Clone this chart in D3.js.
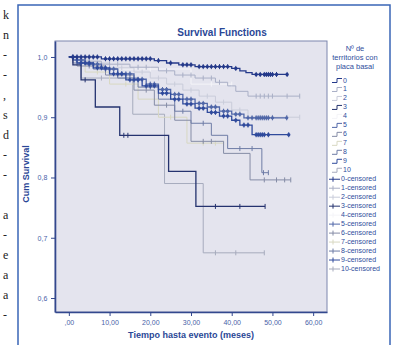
<!DOCTYPE html>
<html>
<head>
<meta charset="utf-8">
<script src="https://cdn.jsdelivr.net/npm/d3@7"></script>
<style>
  body { margin: 0; background: #fff; }
  svg { display: block; font-family: "Liberation Sans", Arial, sans-serif; }
</style>
</head>
<body>
<svg id="chart" width="395" height="345"></svg>
<script>
// Nº de territorios con placa basal
const groups = ["0", "1", "2", "3", "4", "5", "6", "7", "8", "9", "10"];
const groupColors = ["#24398a", "#a9afc6", "#c9ccda", "#25336f", "#f4f4f8", "#5067a8",
                     "#858ca6", "#d8d8c2", "#6e7ca6", "#2f4a9c", "#a6abbd"];

// event times (months) and survival after each event, per group
const eventTimes = [
  [8, 21, 24, 27, 31, 40, 42, 43.5, 45],
  [3, 8, 15, 22, 26, 31, 36, 39, 41, 44],
  [1, 5, 10, 16, 20, 24, 28, 32, 36, 40, 44],
  [1, 3, 6.5, 12.5, 24.5, 31.2],
  [12, 30],
  [1, 4, 8, 12, 16, 19, 22, 25, 28, 31, 34, 37, 40, 43],
  [2, 9, 16, 21, 26, 30, 38, 44.5],
  [4, 10, 17, 22, 29],
  [1, 6, 12, 17, 22, 26, 30, 35, 39, 47.4],
  [2, 6, 10, 14, 18, 22, 25, 28, 31, 34, 37, 40, 42, 45],
  [3, 15.7, 23.5, 33]
];
const survival = [
  [0.997, 0.994, 0.99, 0.987, 0.984, 0.981, 0.977, 0.974, 0.971],
  [0.993, 0.988, 0.983, 0.977, 0.97, 0.965, 0.958, 0.952, 0.943, 0.935],
  [0.995, 0.99, 0.982, 0.975, 0.965, 0.955, 0.945, 0.935, 0.925, 0.912, 0.9],
  [0.987, 0.962, 0.917, 0.87, 0.81, 0.752],
  [0.98, 0.955],
  [0.995, 0.988, 0.98, 0.972, 0.963, 0.955, 0.946, 0.938, 0.93, 0.923, 0.917, 0.91, 0.905, 0.899],
  [0.985, 0.97, 0.945, 0.92, 0.895, 0.86, 0.84, 0.796],
  [0.975, 0.955, 0.93, 0.9, 0.857],
  [0.99, 0.98, 0.965, 0.95, 0.93, 0.91, 0.89, 0.87, 0.848, 0.808],
  [0.99, 0.982, 0.972, 0.962, 0.952, 0.94, 0.93, 0.922, 0.915, 0.908, 0.902, 0.895, 0.887, 0.871],
  [0.965, 0.905, 0.79, 0.675]
];
const censorTimes = [
  [1, 2, 3, 4, 5, 6, 7, 9, 10, 11, 12, 13, 14, 15, 16, 17, 18, 19, 20, 22, 25, 28, 29, 30, 32, 33,
   34, 35, 36, 37, 38, 39, 41, 46, 47, 48, 48.5, 49, 49.5, 50, 51, 53.6],
  [2, 5, 10, 12, 17, 19, 24, 28, 30, 33, 35, 37, 46, 47, 48, 49, 50, 53.6, 56.7],
  [3, 7, 13, 18, 22, 26, 30, 34, 38, 42, 47, 50, 53.6, 56.7],
  [4, 13.5, 14.5, 36, 42, 48.2],
  [5, 20, 35, 40],
  [2, 3, 5, 6, 7, 9, 10, 11, 13, 14, 15, 17, 18, 20, 21, 23, 24, 26, 27, 29, 30, 32, 33, 35, 36, 38,
   39, 41, 42, 44, 45, 46, 46.5, 47, 47.5, 48, 48.5, 49, 50, 53.5],
  [5, 12, 19, 24, 33, 35, 48, 51, 53, 54.5],
  [7, 14, 25, 33, 36, 38],
  [3, 9, 15, 20, 28, 33, 42, 45, 47.8, 49],
  [1, 3, 4, 5, 7, 8, 9, 11, 12, 13, 15, 16, 17, 19, 20, 21, 23, 24, 26, 27, 29, 30, 32, 33, 35, 36,
   38, 39, 41, 43, 44, 46, 46.5, 47, 47.5, 48, 49, 54],
  [8, 36, 41, 48]
];
const endTimes = [53.6, 56.7, 56.7, 48.2, 40, 53.5, 54.5, 38, 49, 54, 48];

const xTicks = [0, 10, 20, 30, 40, 50, 60];
const yTicks = [0.6, 0.7, 0.8, 0.9, 1.0];
const drawOrder = [4, 10, 7, 2, 1, 6, 8, 5, 3, 9, 0];
const dotGroups = [0, 5, 9];

// cropped letters of the neighbouring text column on the scanned page
const marginLetters = ["k", "n", "-", "-", ",", "s", "d", "-", "-", "", "a", "-", "e", "a", "a", "-"];

const svg = d3.select("#chart");
const blue = "#2e4c9c";

// page margin text
svg.append("g")
  .selectAll("text")
  .data(marginLetters)
  .join("text")
  .attr("x", 3)
  .attr("y", (d, i) => 19 + i * 20)
  .attr("font-family", "'Liberation Serif', serif")
  .attr("font-size", 12)
  .attr("fill", "#222")
  .text(d => d);

// figure frame
svg.append("rect")
  .attr("x", 18).attr("y", 5)
  .attr("width", 372).attr("height", 345)
  .attr("fill", "none")
  .attr("stroke", "#3a66b6")
  .attr("stroke-width", 1.5);

const plot = { left: 55, right: 327, top: 41, bottom: 312 };

const x = d3.scaleLinear().domain([-3.4, 63.4]).range([plot.left, plot.right]);
const y = d3.scaleLinear().domain([0.5768, 1.0265]).range([plot.bottom, plot.top]);

svg.append("rect")
  .attr("x", plot.left).attr("y", plot.top)
  .attr("width", plot.right - plot.left).attr("height", plot.bottom - plot.top)
  .attr("fill", "#e4e4ee")
  .attr("stroke", "#7d86ae")
  .attr("stroke-width", 1);

svg.append("defs").append("clipPath").attr("id", "clip")
  .append("rect")
  .attr("x", plot.left).attr("y", plot.top)
  .attr("width", plot.right - plot.left).attr("height", plot.bottom - plot.top);

// axes
const xAxis = svg.append("g")
  .attr("transform", `translate(0,${plot.bottom})`)
  .call(d3.axisBottom(x).tickValues(xTicks).tickSize(4).tickSizeOuter(0)
    .tickFormat(d => d === 0 ? ",00" : d3.format(".2f")(d).replace(".", ",")));
const yAxis = svg.append("g")
  .attr("transform", `translate(${plot.left},0)`)
  .call(d3.axisLeft(y).tickValues(yTicks).tickSize(4).tickSizeOuter(0)
    .tickFormat(d => d3.format(".1f")(d).replace(".", ",")));

[xAxis, yAxis].forEach(g => {
  g.select(".domain").attr("stroke", "#33488e").attr("stroke-width", 1.6);
  g.selectAll(".tick line").attr("stroke", "#33488e");
  g.selectAll(".tick text")
    .attr("fill", "#4862a8")
    .attr("font-size", 7)
    .attr("font-family", "'Liberation Sans', Arial, sans-serif");
});
xAxis.selectAll(".tick text").attr("dy", "0.9em");
yAxis.selectAll(".tick text").attr("dx", "-0.1em");

// survival step lines
const line = d3.line()
  .curve(d3.curveStepAfter)
  .x(d => x(d[0]))
  .y(d => y(d[1]));

function stepPoints(g) {
  const pts = [[0, 1]];
  eventTimes[g].forEach((t, i) => pts.push([t, survival[g][i]]));
  pts.push([endTimes[g], pts[pts.length - 1][1]]);
  return pts;
}
function survivalAt(g, t) {
  let s = 1;
  eventTimes[g].forEach((et, i) => { if (et <= t) s = survival[g][i]; });
  return s;
}

const curves = svg.append("g").attr("clip-path", "url(#clip)");

drawOrder.forEach(g => {
  const dark = dotGroups.includes(g) || g === 3;
  curves.append("path")
    .datum(stepPoints(g))
    .attr("fill", "none")
    .attr("stroke", groupColors[g])
    .attr("stroke-width", dark ? 1.3 : 1)
    .attr("d", line);

  const marks = curves.append("g");
  marks.selectAll("line")
    .data(censorTimes[g])
    .join("line")
    .attr("x1", t => x(t)).attr("x2", t => x(t))
    .attr("y1", t => y(survivalAt(g, t)) - 2.5)
    .attr("y2", t => y(survivalAt(g, t)) + 2.5)
    .attr("stroke", groupColors[g])
    .attr("stroke-width", 1);
  if (dotGroups.includes(g)) {
    marks.selectAll("circle")
      .data(censorTimes[g])
      .join("circle")
      .attr("cx", t => x(t))
      .attr("cy", t => y(survivalAt(g, t)))
      .attr("r", 1.7)
      .attr("fill", groupColors[g]);
  }
});

// titles
svg.append("text")
  .attr("x", 222).attr("y", 36)
  .attr("text-anchor", "middle")
  .attr("font-size", 10).attr("font-weight", "bold")
  .attr("fill", "#2a4796")
  .text("Survival Functions");

svg.append("text")
  .attr("x", 191).attr("y", 338)
  .attr("text-anchor", "middle")
  .attr("font-size", 9).attr("font-weight", "bold")
  .attr("fill", "#2a4796")
  .text("Tiempo hasta evento (meses)");

svg.append("text")
  .attr("transform", "translate(29,174) rotate(-90)")
  .attr("text-anchor", "middle")
  .attr("font-size", 9).attr("font-weight", "bold")
  .attr("fill", "#2a4796")
  .text("Cum Survival");

// legend
const legend = svg.append("g").attr("font-size", 7).attr("fill", blue);
["Nº de", "territorios con", "placa basal"].forEach((t, i) => {
  legend.append("text")
    .attr("x", 355).attr("y", 51 + i * 9)
    .attr("text-anchor", "middle")
    .attr("font-size", 7.5)
    .text(t);
});

const legendItems = groups.map((g, i) => ({ label: g, g: i, censored: false }))
  .concat(groups.map((g, i) => ({ label: g + "-censored", g: i, censored: true })));
const rowY = d3.scaleLinear().domain([0, 21]).range([80, 268.5]);

const rows = legend.selectAll("g.row")
  .data(legendItems)
  .join("g")
  .attr("class", "row")
  .attr("transform", (d, i) => `translate(0,${rowY(i)})`);

rows.filter(d => !d.censored).append("path")
  .attr("d", "M332,2.5H337V-1.5H342")
  .attr("fill", "none")
  .attr("stroke", d => groupColors[d.g]);
rows.filter(d => d.censored).append("path")
  .attr("d", "M329,0.5H340M333,-2V3")
  .attr("fill", "none")
  .attr("stroke", d => groupColors[d.g]);
rows.append("text")
  .attr("x", d => d.censored ? 341 : 343)
  .attr("y", 2.5)
  .text(d => d.label);
</script>
</body>
</html>
